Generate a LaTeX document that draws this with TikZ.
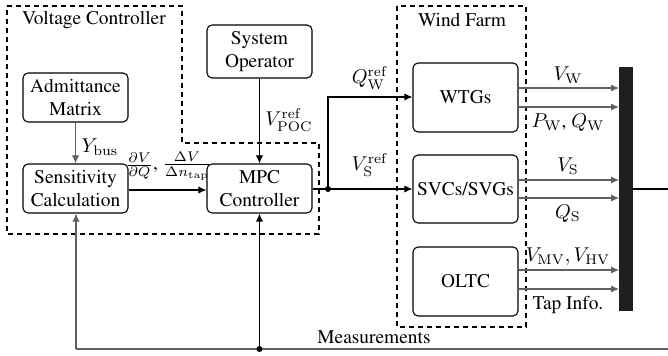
\documentclass[tikz,border=0pt]{standalone}
\usepackage[T1]{fontenc}
\usepackage{times}
\usetikzlibrary{arrows.meta}
\begin{document}
\begin{tikzpicture}[x=0.5pt,y=-0.5pt,
  font=\rmfamily\fontsize{9.7}{11.2}\selectfont,
  blk/.style={draw,rounded corners=2.5pt,line width=0.55pt,minimum width=52.5pt,align=center,inner sep=0pt},
  grp/.style={draw,line width=0.55pt,dash pattern=on 2.5pt off 2pt},
  ar/.style={line width=0.55pt,-{Latex[length=4pt,width=3.6pt]}},
  gl/.style={draw=black!62},
  dot/.style={circle,fill,inner sep=0pt,minimum size=3pt}]
\useasboundingbox (0,0) rectangle (668,356);
% groups
\draw[grp] (7,6) -- (182,6) -- (182,143) -- (319,143) -- (319,234) -- (7,234) -- cycle;
\node at (94,20) {Voltage Controller};
\draw[grp] (397,6) rectangle (526,327);
\node at (462,20) {Wind Farm};
% blocks
\node[blk,minimum height=24.5pt] (adm) at (75.5,97.5) {Admittance\\Matrix};
\node[blk,minimum height=24.5pt] (sen) at (75.5,188.5) {Sensitivity\\Calculation};
\node[blk,minimum height=26.5pt] (sys) at (259.5,51.5) {System\\Operator};
\node[blk,minimum height=24.5pt] (mpc) at (259.5,188.5) {MPC\\Controller};
\node[blk,minimum height=34.5pt] (wtg) at (465.5,97.5) {WTGs};
\node[blk,minimum height=34pt] (svc) at (465.5,189) {SVCs/SVGs};
\node[blk,minimum height=34.5pt] (oltc) at (465.5,281.5) {OLTC};
% bus bar
\fill[black!88] (619,67) rectangle (633,311);
\coordinate (busw) at (619,0);
\coordinate (buse) at (633,189);
\coordinate (rend) at (668,189);
\draw[line width=0.55pt] (buse) -- (rend);
% left part
\draw[ar,gl] (adm) -- (sen);
\node at (100,147) {$Y_{\mathrm{bus}}$};
\draw[ar] (sen.east |- 0,190) -- (mpc.west |- 0,190);
\node at (142,166) {$\frac{\partial V}{\partial Q}$,};
\node at (187,166) {$\frac{\Delta V}{\Delta n_{\mathrm{tap}}}$};
\draw[ar] (sys) -- (mpc);
\node at (289,120) {$V_{\mathrm{POC}}^{\mathrm{ref}}$};
% MPC output
\coordinate (j1) at (328,189);
\draw[line width=0.55pt] (mpc.east |- j1) -- (j1);
\draw[ar] (j1) -- (328,97) -- (wtg.west |- 0,97);
\draw[ar] (j1) -- (svc.west |- j1);
\node[dot] (jd) at (j1) {};
\node at (370,78) {$Q_{\mathrm{W}}^{\mathrm{ref}}$};
\node at (370,165) {$V_{\mathrm{S}}^{\mathrm{ref}}$};
% outputs to bus
\draw[ar,gl] (wtg.east |- 0,88) -- (busw |- 0,88);
\draw[ar,gl] (wtg.east |- 0,107) -- (busw |- 0,107);
\node at (568,75) {$V_{\mathrm{W}}$};
\node at (568,123) {$P_{\mathrm{W}}$, $Q_{\mathrm{W}}$};
\draw[ar,gl] (svc.east |- 0,180) -- (busw |- 0,180);
\draw[ar,gl] (svc.east |- 0,198) -- (busw |- 0,198);
\node at (568,166) {$V_{\mathrm{S}}$};
\node at (568,214) {$Q_{\mathrm{S}}$};
\draw[ar,gl] (oltc.east |- 0,270) -- (busw |- 0,270);
\draw[ar,gl] (oltc.east |- 0,289) -- (busw |- 0,289);
\node at (568,257) {$V_{\mathrm{MV}}, V_{\mathrm{HV}}$};
\node at (568,305) {Tap Info.};
% measurements
\coordinate (mr) at (668,349);
\coordinate (ml) at (76,349);
\coordinate (mj) at (259.5,349);
\draw[gl,line width=0.55pt] (mr) -- (ml);
\draw[ar,gl] (ml) -- (sen.south -| ml);
\draw[ar] (mj) -- (mpc.south);
\node[dot] at (mj) {};
\node at (374,337) {Measurements};
\end{tikzpicture}
\end{document}
